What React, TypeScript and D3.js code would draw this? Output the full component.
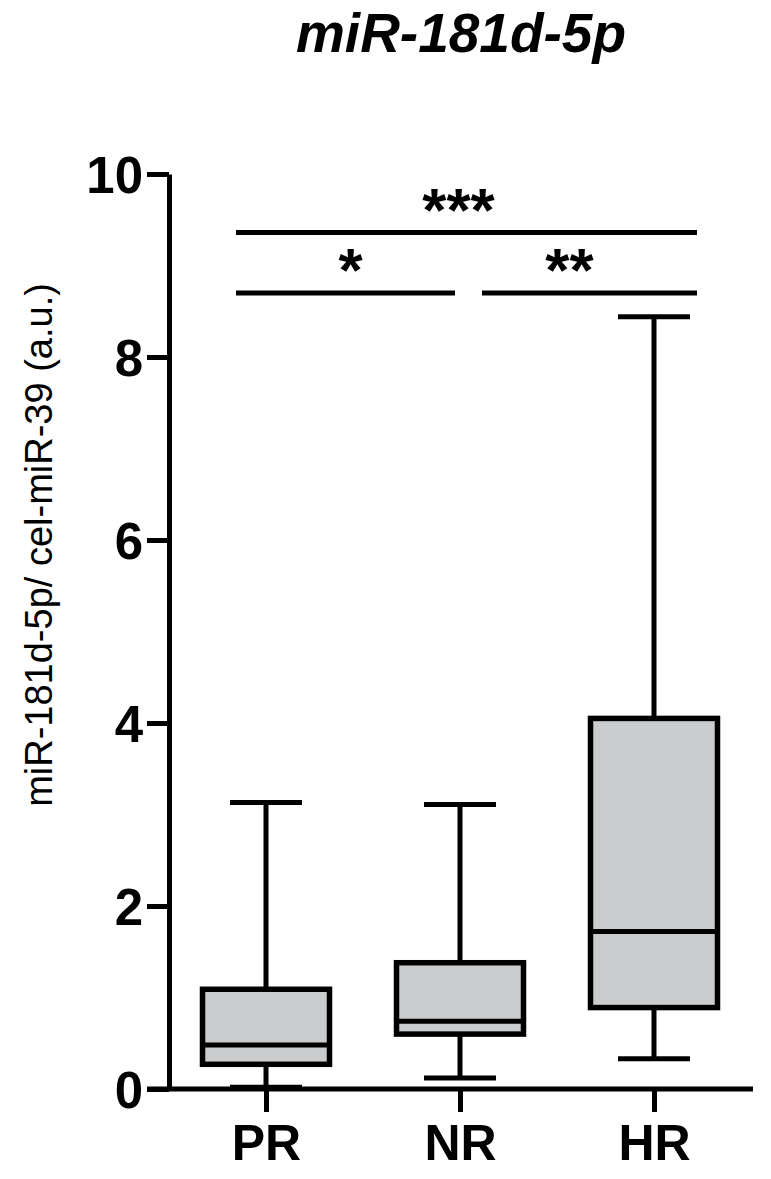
import React, { useEffect, useRef } from "react";
import * as d3 from "d3";

// box plot summaries (a.u.)
const groups = ["PR", "NR", "HR"];
const whiskerLow = [0.02, 0.12, 0.33];
const q1 = [0.27, 0.6, 0.89];
const median = [0.48, 0.74, 1.72];
const q3 = [1.09, 1.38, 4.05];
const whiskerHigh = [3.13, 3.11, 8.44];

const yTicks = [0, 2, 4, 6, 8, 10];

// significance comparisons
const compFrom = ["PR", "PR", "NR"];
const compTo = ["HR", "NR", "HR"];
const compLevel = [9.36, 8.7, 8.7];
const compLabel = ["***", "*", "**"];

const title = "miR-181d-5p";
const yLabel = "miR-181d-5p/ cel-miR-39 (a.u.)";

const W = 771;
const H = 1179;
const FONT = "'Liberation Sans', Arial, Helvetica, sans-serif";

const App = () => {
  const svgRef = useRef(null);

  useEffect(() => {
    const svg = d3.select(svgRef.current);
    svg.selectAll("*").remove();

    const axisX = 169;
    const y = d3.scaleLinear().domain([0, 10]).range([1089, 174]);
    const x = d3.scalePoint().domain(groups).range([266, 654]);

    const boxW = 127;
    const capW = 72;
    const lw = 5;

    const data = groups.map((g, i) => ({
      g,
      lo: whiskerLow[i],
      q1: q1[i],
      med: median[i],
      q3: q3[i],
      hi: whiskerHigh[i],
    }));

    const boxes = svg.append("g");
    data.forEach((d) => {
      const cx = x(d.g);
      const g = boxes.append("g").attr("stroke", "#000").attr("stroke-width", lw);
      // whiskers
      g.append("line").attr("x1", cx).attr("x2", cx).attr("y1", y(d.hi)).attr("y2", y(d.q3));
      g.append("line").attr("x1", cx).attr("x2", cx).attr("y1", y(d.q1)).attr("y2", y(d.lo));
      g.append("line")
        .attr("x1", cx - capW / 2).attr("x2", cx + capW / 2)
        .attr("y1", y(d.hi)).attr("y2", y(d.hi));
      g.append("line")
        .attr("x1", cx - capW / 2).attr("x2", cx + capW / 2)
        .attr("y1", y(d.lo)).attr("y2", y(d.lo));
      // box
      g.append("rect")
        .attr("x", cx - boxW / 2)
        .attr("width", boxW)
        .attr("y", y(d.q3))
        .attr("height", y(d.q1) - y(d.q3))
        .attr("fill", "#cacccd")
        .attr("stroke-width", lw + 0.5);
      g.append("line")
        .attr("x1", cx - boxW / 2).attr("x2", cx + boxW / 2)
        .attr("y1", y(d.med)).attr("y2", y(d.med));
    });

    // y axis
    const yAxis = svg
      .append("g")
      .attr("transform", `translate(${axisX},0)`)
      .call(d3.axisLeft(y).tickValues(yTicks).tickSize(22).tickSizeOuter(0).tickPadding(4));
    yAxis.select(".domain").attr("stroke", "#000").attr("stroke-width", lw);
    yAxis.selectAll(".tick line").attr("stroke", "#000").attr("stroke-width", lw);
    yAxis
      .selectAll(".tick text")
      .attr("fill", "#000")
      .attr("font-family", FONT)
      .attr("font-weight", "bold")
      .attr("font-size", 51)
      .attr("dy", "0.36em");

    // x axis
    svg
      .append("line")
      .attr("x1", 147)
      .attr("x2", 753)
      .attr("y1", y(0))
      .attr("y2", y(0))
      .attr("stroke", "#000")
      .attr("stroke-width", lw);
    const xAxis = svg
      .append("g")
      .attr("transform", `translate(0,${y(0)})`)
      .call(d3.axisBottom(x).tickSize(23).tickSizeOuter(0).tickPadding(12));
    xAxis.select(".domain").remove();
    xAxis.selectAll(".tick line").attr("stroke", "#000").attr("stroke-width", lw);
    xAxis
      .selectAll(".tick text")
      .attr("fill", "#000")
      .attr("font-family", FONT)
      .attr("font-weight", "bold")
      .attr("font-size", 50)
      .attr("dy", "0.71em");

    // significance bars
    const sig = svg.append("g");
    const starShift = [-8, 5, -20];
    compFrom.forEach((from, i) => {
      const to = compTo[i];
      const split = compLevel[i] < 9;
      let x1 = x(from) - 30;
      let x2 = x(to) + 43;
      if (split && from === "NR") x1 = x(from) + 22;
      if (split && to === "NR") x2 = x(to) - 5;
      const ly = y(compLevel[i]);
      sig
        .append("line")
        .attr("x1", x1)
        .attr("x2", x2)
        .attr("y1", ly)
        .attr("y2", ly)
        .attr("stroke", "#000")
        .attr("stroke-width", lw);
      sig
        .append("text")
        .attr("x", (x1 + x2) / 2 + starShift[i])
        .attr("y", ly - 2)
        .attr("text-anchor", "middle")
        .attr("font-family", FONT)
        .attr("font-weight", "bold")
        .attr("font-size", 62)
        .text(compLabel[i]);
    });

    // title
    svg
      .append("text")
      .attr("x", 461)
      .attr("y", 52)
      .attr("text-anchor", "middle")
      .attr("font-family", FONT)
      .attr("font-weight", "bold")
      .attr("font-style", "italic")
      .attr("font-size", 55)
      .text(title);

    // y label
    svg
      .append("text")
      .attr("transform", `translate(52,545) rotate(-90)`)
      .attr("text-anchor", "middle")
      .attr("font-family", FONT)
      .attr("font-size", 38)
      .text(yLabel);
  }, []);

  return (
    <svg
      ref={svgRef}
      width={W}
      height={H}
      style={{ position: "absolute", left: 0, top: 0, background: "#fff" }}
    />
  );
};

export default App;
